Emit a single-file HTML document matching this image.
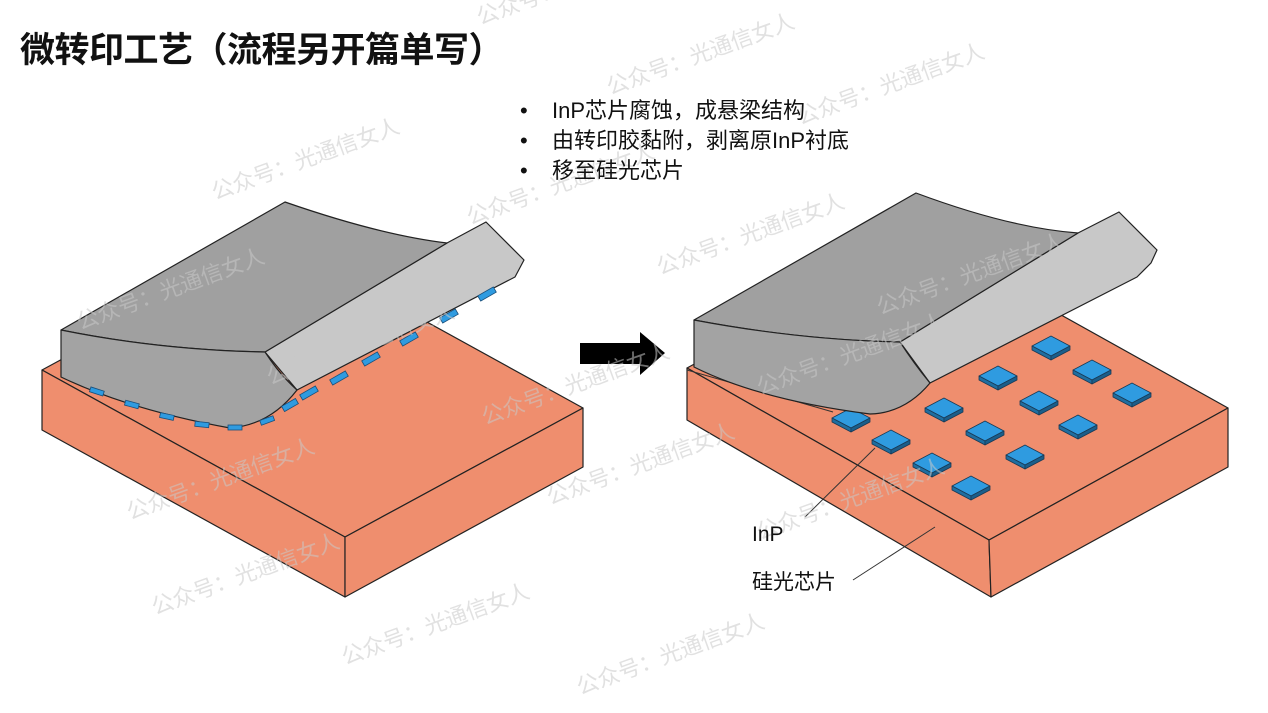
<!DOCTYPE html>
<html><head><meta charset="utf-8"><style>
html,body{margin:0;padding:0;background:#fff;}
body{width:1268px;height:713px;overflow:hidden;position:relative;font-family:"Liberation Sans","Noto Sans CJK SC",sans-serif;}
.t{position:absolute;white-space:nowrap;color:#111;}
</style></head><body>
<svg width="1268" height="713" style="position:absolute;left:0;top:0" xmlns="http://www.w3.org/2000/svg">
<defs>
<g id="c">
<polygon points="-19,0 0,-10 19,0 0,10" fill="#2f9be0"/>
<polygon points="-19,0 0,10 0,14 -19,4" fill="#1f6ea0"/>
<polygon points="0,10 19,0 19,4 0,14" fill="#1b5e8a"/>
</g>
</defs>
<g stroke="#222" stroke-width="1.2" stroke-linejoin="round">
<polygon points="42,370 280,241 583,408 345,537" fill="#ef8e6e"/>
<polygon points="42,370 345,537 345,597 42,430" fill="#ef8e6e"/>
<polygon points="345,537 583,408 583,467 345,597" fill="#ef8e6e"/>
<polygon points="265,352 447,243 486,222 524,260 515,277 297,390" fill="#c8c8c8"/>
<path d="M61,330 L285,202 Q380,235 447,243 L265,352 Q160,350 61,330 Z" fill="#a0a0a0"/>
<path d="M61,330 Q160,350 265,352 Q280,375 297,390 Q270,425 230,428 Q130,410 61,377 Z" fill="#a3a3a3"/>
<polygon points="687,368 925,239 1228,408 989,540" fill="#ef8e6e"/>
<polygon points="687,368 989,540 991,597 687,420" fill="#ef8e6e"/>
<polygon points="989,540 1228,408 1228,467 991,597" fill="#ef8e6e"/>
<line x1="687" y1="370" x2="833" y2="412" stroke="#333" stroke-width="1"/>
</g>
<g fill="#2f9be0" stroke="#1a4f7a" stroke-width="0.8">
<rect x="90" y="389" width="14" height="5" transform="rotate(18 97 391)"/>
<rect x="125" y="402" width="14" height="5" transform="rotate(15 132 404)"/>
<rect x="160" y="414" width="14" height="5" transform="rotate(12 167 416)"/>
<rect x="195" y="422" width="14" height="5" transform="rotate(6 202 424)"/>
<rect x="228" y="425" width="14" height="5"/>
<rect x="260" y="418" width="14" height="5" transform="rotate(-20 267 420)"/>
<rect x="282" y="402" width="16" height="6" transform="rotate(-30 290 405)"/>
<rect x="300" y="390" width="18" height="6" transform="rotate(-30 309 393)"/>
<rect x="330" y="375" width="18" height="6" transform="rotate(-30 339 378)"/>
<rect x="362" y="356" width="18" height="6" transform="rotate(-30 371 359)"/>
<rect x="400" y="336" width="18" height="6" transform="rotate(-30 409 339)"/>
<rect x="440" y="313" width="18" height="6" transform="rotate(-30 449 316)"/>
<rect x="478" y="291" width="18" height="6" transform="rotate(-30 487 294)"/>
</g>
<g stroke="#1a3a55" stroke-width="0.8" stroke-linejoin="round">
<use href="#c" x="1051" y="346"/><use href="#c" x="1092" y="370"/><use href="#c" x="1132" y="393"/>
<use href="#c" x="998" y="376"/><use href="#c" x="1039" y="401"/><use href="#c" x="1078" y="425"/>
<use href="#c" x="944" y="408"/><use href="#c" x="985" y="431"/><use href="#c" x="1025" y="455"/>
<use href="#c" x="851" y="418"/>
<use href="#c" x="891" y="440"/><use href="#c" x="932" y="463"/><use href="#c" x="971" y="486"/>
</g>
<g stroke="#222" stroke-width="1.2" stroke-linejoin="round">
<polygon points="900,342 1078,233 1119,212 1157,250 1151,263 1137,277 930,383" fill="#c8c8c8"/>
<path d="M694,320 L916,193 Q1010,228 1078,233 L900,342 Q800,340 694,320 Z" fill="#a0a0a0"/>
<path d="M694,320 Q800,340 900,342 Q915,365 930,383 Q905,413 870,414 Q760,400 694,367 Z" fill="#a3a3a3"/>
</g>
<g stroke="#333" stroke-width="1" fill="none">
<line x1="805" y1="517" x2="875" y2="448"/>
<line x1="853" y1="580" x2="935" y2="527"/>
</g>
<polygon points="580,343 640,343 640,332 665,353 640,375 640,364 580,364" fill="#000"/>
<g fill="#c8c8c8" fill-opacity="0.55" font-size="22" font-family="Liberation Sans, Noto Sans CJK SC, sans-serif">
<text transform="translate(480,25) rotate(-20)">公众号：光通信女人</text>
<text transform="translate(610,95) rotate(-20)">公众号：光通信女人</text>
<text transform="translate(800,125) rotate(-20)">公众号：光通信女人</text>
<text transform="translate(215,200) rotate(-20)">公众号：光通信女人</text>
<text transform="translate(470,225) rotate(-20)">公众号：光通信女人</text>
<text transform="translate(660,275) rotate(-20)">公众号：光通信女人</text>
<text transform="translate(880,315) rotate(-20)">公众号：光通信女人</text>
<text transform="translate(80,330) rotate(-20)">公众号：光通信女人</text>
<text transform="translate(270,385) rotate(-20)">公众号：光通信女人</text>
<text transform="translate(485,425) rotate(-20)">公众号：光通信女人</text>
<text transform="translate(760,395) rotate(-20)">公众号：光通信女人</text>
<text transform="translate(130,520) rotate(-20)">公众号：光通信女人</text>
<text transform="translate(550,505) rotate(-20)">公众号：光通信女人</text>
<text transform="translate(760,540) rotate(-20)">公众号：光通信女人</text>
<text transform="translate(155,615) rotate(-20)">公众号：光通信女人</text>
<text transform="translate(345,665) rotate(-20)">公众号：光通信女人</text>
<text transform="translate(580,695) rotate(-20)">公众号：光通信女人</text>
</g>
</svg>
<div class="t" style="left:20px;top:22px;font-size:35px;font-weight:bold;letter-spacing:-0.5px;">微转印工艺（流程另开篇单写）</div>
<div class="t" style="left:520px;top:96px;font-size:22px;line-height:30px;">
<div><span style="display:inline-block;width:32px">•</span>InP芯片腐蚀，成悬梁结构</div>
<div><span style="display:inline-block;width:32px">•</span>由转印胶黏附，剥离原InP衬底</div>
<div><span style="display:inline-block;width:32px">•</span>移至硅光芯片</div>
</div>
<div class="t" style="left:752px;top:523px;font-size:21px;">InP</div>
<div class="t" style="left:752px;top:566px;font-size:21px;">硅光芯片</div>
</body></html>
